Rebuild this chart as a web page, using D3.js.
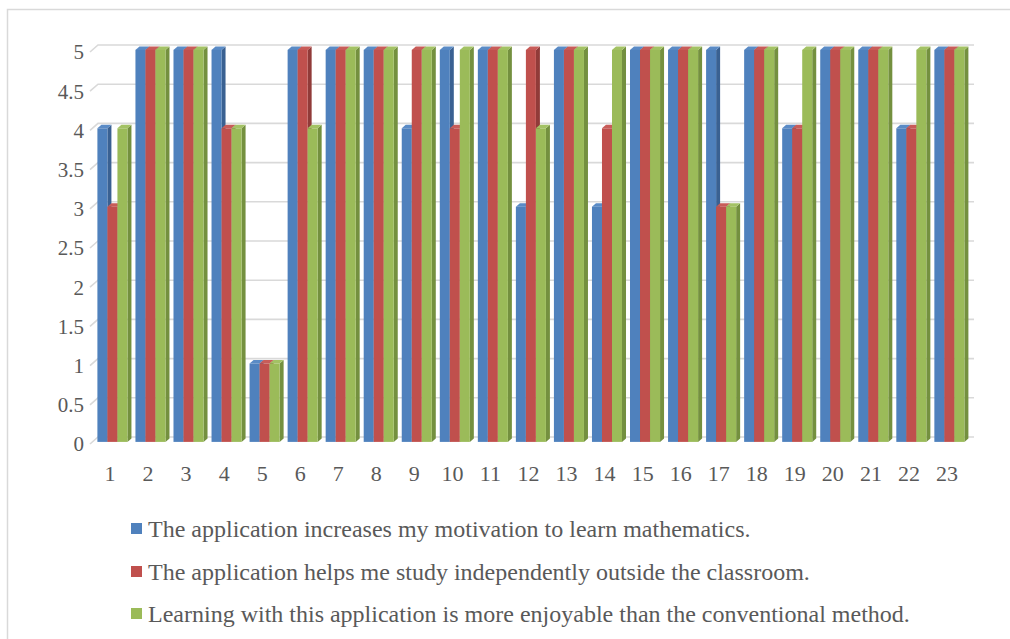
<!DOCTYPE html>
<html>
<head>
<meta charset="utf-8">
<script src="https://cdn.jsdelivr.net/npm/d3@7"></script>
<style>
  html, body { margin: 0; padding: 0; background: #fff; }
  svg { display: block; }
  text { font-family: "Liberation Serif", "Times New Roman", serif; fill: #595959; }
</style>
</head>
<body>
<svg id="chart" width="1010" height="639"></svg>
<script>
// Survey responses per student (1-23), rated on a 0-5 scale
const categories = d3.range(1, 24).map(String);
const motivation = [4,5,5,5,1,5,5,5,4,5,5,3,5,3,5,5,5,5,4,5,5,4,5];
const independent = [3,5,5,4,1,5,5,5,5,4,5,5,5,4,5,5,3,5,4,5,5,4,5];
const enjoyable = [4,5,5,4,1,4,5,5,5,5,5,4,5,5,5,5,3,5,5,5,5,5,5];
const seriesNames = [
  "The application increases my motivation to learn mathematics.",
  "The application helps me study independently outside the classroom.",
  "Learning with this application is more enjoyable than the conventional method."
];
const yTicks = [0, 0.5, 1, 1.5, 2, 2.5, 3, 3.5, 4, 4.5, 5];

const seriesValues = [motivation, independent, enjoyable];
const fills = ["#4F81BD", "#C0504D", "#9BBB59"];
const sides = ["#3A6192", "#913B39", "#74903F"];
const tops = ["#5A8BC6", "#C85C59", "#A3C264"];

const svg = d3.select("#chart");

// outer frame
svg.append("rect")
  .attr("x", 7.5).attr("y", 9.5).attr("width", 1100).attr("height", 700)
  .attr("fill", "none").attr("stroke", "#D9D9D9").attr("stroke-width", 1.5);

// depth of the 3D box (back wall offset)
const DX = 8, DY = 7;
// bars occupy this slice of the depth
const F0 = 0.3, F1 = 0.8;

const x = d3.scaleBand().domain(categories).range([91, 966]).padding(0);
const xs = d3.scaleBand().domain([0, 1, 2]).range([4, x.bandwidth() - 4]).padding(0);
const y = d3.scaleLinear().domain([0, 5]).range([444, 52]);

const x0 = 90, x1 = 966;

// gridlines: side-wall diagonal and back-wall horizontal
svg.append("g").selectAll("path")
  .data(yTicks)
  .join("path")
  .attr("d", t => `M${x0},${y(t)} L${x0 + DX},${y(t) - DY} L${x1 + DX},${y(t) - DY}`)
  .attr("fill", "none")
  .attr("stroke", "#D9D9D9")
  .attr("stroke-width", 1.6);

// y-axis labels
svg.append("g").selectAll("text")
  .data(yTicks)
  .join("text")
  .attr("x", 84)
  .attr("y", t => y(t))
  .attr("dy", "0.35em")
  .attr("text-anchor", "end")
  .attr("font-size", 21)
  .text(t => d3.format("~g")(t));

// category labels
svg.append("g").selectAll("text")
  .data(categories)
  .join("text")
  .attr("x", c => x(c) + x.bandwidth() / 2)
  .attr("y", 473)
  .attr("dy", "0.35em")
  .attr("text-anchor", "middle")
  .attr("font-size", 22)
  .text(c => c);

// 3D columns, drawn left to right so each face overlaps the previous side
const bars = [];
categories.forEach((c, ci) => {
  seriesValues.forEach((vals, si) => {
    bars.push({ c, si, v: vals[ci] });
  });
});

const gBars = svg.append("g");
bars.forEach(b => {
  const left = x(b.c) + xs(b.si) + DX * F0;
  const right = left + xs.bandwidth();
  const yb = y(0) - DY * F0;
  const yt = y(b.v) - DY * F0;
  const ddx = DX * (F1 - F0), ddy = DY * (F1 - F0);
  const g = gBars.append("g");
  // right side face
  g.append("path")
    .attr("d", `M${right},${yb} L${right + ddx},${yb - ddy} L${right + ddx},${yt - ddy} L${right},${yt} Z`)
    .attr("fill", sides[b.si]);
  // top face
  g.append("path")
    .attr("d", `M${left},${yt} L${left + ddx},${yt - ddy} L${right + ddx},${yt - ddy} L${right},${yt} Z`)
    .attr("fill", tops[b.si]);
  // front face
  g.append("rect")
    .attr("x", left).attr("y", yt)
    .attr("width", xs.bandwidth()).attr("height", yb - yt)
    .attr("fill", fills[b.si]);
});

// legend
const legend = svg.append("g");
const legendY = [529, 572, 614];
seriesNames.forEach((name, i) => {
  legend.append("rect")
    .attr("x", 131).attr("y", legendY[i] - 6)
    .attr("width", 11).attr("height", 11)
    .attr("fill", fills[i]);
  legend.append("text")
    .attr("x", 148).attr("y", legendY[i])
    .attr("dy", "0.33em")
    .attr("font-size", 24)
    .text(name);
});
</script>
</body>
</html>
